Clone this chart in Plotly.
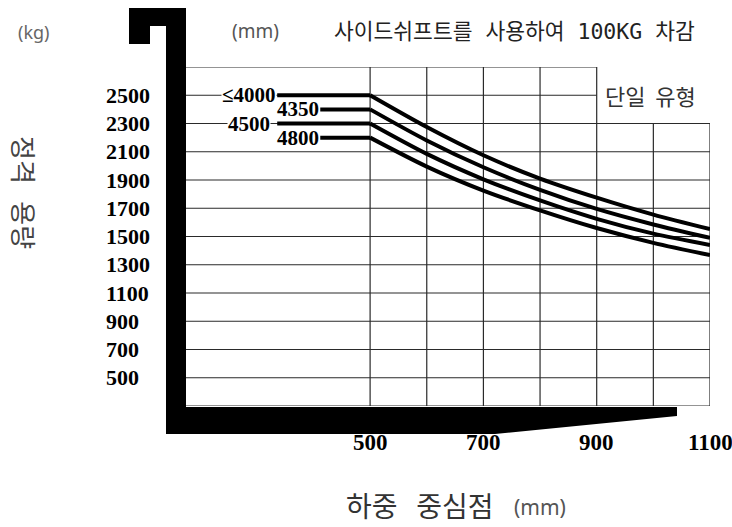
import plotly.graph_objects as go

# ---------------- data ----------------
center_mm = [500, 600, 700, 800, 900, 1000, 1100]
cap_4000 = [2500, 2275, 2075, 1910, 1775, 1655, 1552]
cap_4350 = [2400, 2180, 1990, 1830, 1695, 1585, 1490]
cap_4500 = [2300, 2085, 1905, 1755, 1625, 1520, 1440]
cap_4800 = [2200, 1995, 1825, 1685, 1560, 1455, 1368]
series_labels = ["≤4000", "4350", "4500", "4800"]
flat_start = [336, 412, 336, 412]          # where each flat segment begins (mm scale)

y_tick_vals = [2500, 2300, 2100, 1900, 1700, 1500, 1300, 1100, 900, 700, 500]
y_tick_text = ["2500", "2300", "2100", "1900", "1700", "1500", "1300", "1100", "900", "700", "500"]
x_tick_vals = [500, 700, 900, 1100]
x_tick_text = ["500", "700", "900", "1100"]

grid_x = [500, 600, 700, 800, 900, 1000, 1100]
grid_y = [300, 500, 700, 900, 1100, 1300, 1500, 1700, 1900, 2100, 2300, 2500, 2700]

X_MIN, X_MAX = 175, 1100
Y_MIN, Y_MAX = 300, 2700

# ---------------- layout geometry ----------------
FW, FH = 732, 527
L, R, T, B = 186, 710, 67, 406
W, H = R - L, B - T


def PX(x):
    return (x - L) / W


def PY(y):
    return (B - y) / H


fig = go.Figure()

series = [cap_4000, cap_4350, cap_4500, cap_4800]
for lab, caps, xs in zip(series_labels, series, flat_start):
    fig.add_trace(go.Scatter(x=[xs, center_mm[0]], y=[caps[0], caps[0]], mode="lines",
                             line=dict(color="black", width=4), showlegend=False, hoverinfo="skip"))
    fig.add_trace(go.Scatter(x=center_mm, y=caps, mode="lines",
                             line=dict(color="black", width=4, shape="spline", smoothing=0.8),
                             showlegend=False, name=lab))

shapes = []
gc = "#2a2a2a"
for gx in grid_x:
    top = Y_MAX if gx <= 900 else 2300
    shapes.append(dict(type="line", xref="x", yref="y", x0=gx, x1=gx, y0=Y_MIN, y1=top,
                       line=dict(color=gc, width=1.2), layer="below"))
for gy in grid_y:
    right = 900 if gy > 2300 else X_MAX
    shapes.append(dict(type="line", xref="x", yref="y", x0=X_MIN, x1=right, y0=gy, y1=gy,
                       line=dict(color=gc, width=1.2), layer="below"))

# thick black frame
pts = [(129, 8), (186, 8), (186, 407), (677, 407), (677, 416), (495, 434), (166, 434),
       (166, 26), (150, 26), (150, 44), (129, 44)]
path = "M " + " L ".join(f"{PX(a):.5f},{PY(b):.5f}" for a, b in pts) + " Z"
shapes.append(dict(type="path", xref="paper", yref="paper", path=path,
                   fillcolor="black", line=dict(width=0), layer="above"))

ann = []
tick_font = dict(family="Liberation Serif", size=22, color="black", weight="bold")
for v, t in zip(y_tick_vals, y_tick_text):
    ann.append(dict(x=PX(104), xref="paper", y=v, yref="y", text=t, showarrow=False,
                    xanchor="left", yanchor="middle", font=tick_font))
for v, t in zip(x_tick_vals, x_tick_text):
    ann.append(dict(x=v, xref="x", y=PY(442), yref="paper", text=t, showarrow=False,
                    xanchor="center", yanchor="middle",
                    font=dict(family="Liberation Serif", size=23, color="black", weight="bold")))

lab_font = dict(family="Liberation Serif", size=21, color="black", weight="bold")
shift = [0, 0, -6, 0]
for lab, caps, xs, sh in zip(series_labels, series, flat_start, shift):
    ann.append(dict(x=xs, xref="x", y=caps[0], yref="y", text=lab, showarrow=False,
                    xanchor="right", yanchor="middle", xshift=sh, font=lab_font,
                    bgcolor="white" if lab in ("≤4000", "4500") else None, borderpad=0))

ann += [
    dict(x=PX(16), xref="paper", y=PY(32), yref="paper", text="(kg)", showarrow=False,
         xanchor="left", yanchor="middle", font=dict(family="Noto Sans", size=18, color="#666")),
    dict(x=PX(230), xref="paper", y=PY(31), yref="paper", text="(mm)", showarrow=False,
         xanchor="left", yanchor="middle", font=dict(family="Noto Sans", size=19, color="#555")),
    dict(x=PX(332), xref="paper", y=PY(31), yref="paper", text="사이드쉬프트를 사용하여 100KG 차감",
         showarrow=False, xanchor="left", yanchor="middle",
         font=dict(family="DejaVu Sans Mono, Noto Sans CJK KR", size=21.5, color="#222")),
    dict(x=PX(603), xref="paper", y=PY(95), yref="paper", text="단일  유형", showarrow=False,
         xanchor="left", yanchor="middle",
         font=dict(family="Noto Sans CJK KR", size=22, color="#333")),
    dict(x=PX(25), xref="paper", y=PY(192), yref="paper", text="정격   용량", showarrow=False,
         xanchor="center", yanchor="middle", textangle=90,
         font=dict(family="Noto Sans CJK KR", size=26, color="#444")),
    dict(x=PX(344), xref="paper", y=PY(505), yref="paper", text="하중   중심점", showarrow=False,
         xanchor="left", yanchor="middle",
         font=dict(family="Noto Sans CJK KR", size=28, color="#333")),
    dict(x=PX(512), xref="paper", y=PY(507), yref="paper", text="(mm)", showarrow=False,
         xanchor="left", yanchor="middle", font=dict(family="Noto Sans", size=21, color="#555")),
]

fig.update_layout(
    width=FW, height=FH,
    margin=dict(l=L, r=FW - R, t=T, b=FH - B, pad=0),
    paper_bgcolor="white", plot_bgcolor="white",
    xaxis=dict(range=[X_MIN, X_MAX], visible=False, fixedrange=True),
    yaxis=dict(range=[Y_MIN, Y_MAX], visible=False, fixedrange=True),
    shapes=shapes, annotations=ann, showlegend=False,
)

fig.write_html("out.html", config={"displayModeBar": False},
               post_script="document.body.style.margin='0px';")
